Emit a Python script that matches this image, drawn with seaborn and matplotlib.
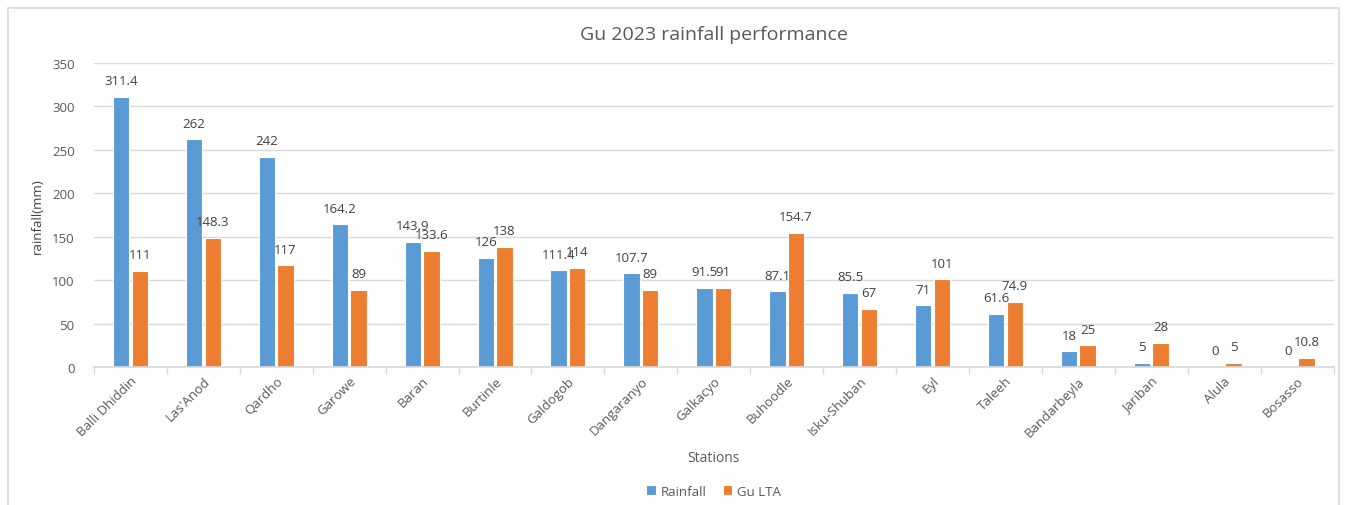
import pandas as pd
import numpy as np
import matplotlib.pyplot as plt
import seaborn as sns
from matplotlib.patches import Rectangle

# Data
stations = ["Balli Dhiddin", "Las'Anod", "Qardho", "Garowe", "Baran", "Burtinle",
            "Galdogob", "Dangaranyo", "Galkacyo", "Buhoodle", "Isku-Shuban", "Eyl",
            "Taleeh", "Bandarbeyla", "Jariban", "Alula", "Bosasso"]
rainfall = [311.4, 262, 242, 164.2, 143.9, 126, 111.4, 107.7, 91.5, 87.1, 85.5, 71,
            61.6, 18, 5, 0, 0]
gu_lta = [111, 148.3, 117, 89, 133.6, 138, 114, 89, 91, 154.7, 67, 101,
          74.9, 25, 28, 5, 10.8]
series = ["Rainfall", "Gu LTA"]
colors = ["#5B9BD5", "#ED7D31"]

df = pd.DataFrame({"Station": stations * 2,
                   "value": rainfall + gu_lta,
                   "series": [series[0]] * len(stations) + [series[1]] * len(stations)})

sns.set_theme(style="white")
plt.rcParams['font.family'] = ['Open Sans', 'DejaVu Sans']
text_col = "#595959"

fig = plt.figure(figsize=(13.47, 5.06), dpi=100)
ax = fig.add_axes([0.0698, 0.2727, 0.9202, 0.6008])

sns.barplot(data=df, x="Station", y="value", hue="series", palette=colors,
            saturation=1, width=0.51, gap=0.12, edgecolor="white", linewidth=0.8, ax=ax)

for cont in ax.containers:
    ax.bar_label(cont, labels=[f"{v:g}" for v in cont.datavalues],
                 padding=7, fontsize=9.5, color="#404040")

ax.set_ylim(0, 350)
ax.set_yticks(np.arange(0, 351, 50))
ax.set_xlim(-0.5, len(stations) - 0.5)
ax.yaxis.grid(True, color="#d9d9d9", lw=1)
ax.set_axisbelow(True)
for s in ["top", "right", "left"]:
    ax.spines[s].set_visible(False)
ax.spines["bottom"].set_color("#d9d9d9")
ax.set_xticks(np.arange(-0.5, len(stations), 1), minor=True)
ax.tick_params(axis="x", which="minor", length=5, color="#d9d9d9", bottom=True)
ax.tick_params(axis="x", which="major", length=0, labelsize=9.5, labelcolor=text_col, pad=5)
ax.tick_params(axis="y", length=0, labelsize=9.5, labelcolor=text_col, pad=14)
plt.setp(ax.get_xticklabels(), rotation=45, ha="right", rotation_mode="anchor")

ax.set_xlabel("Stations", fontsize=10, color=text_col, labelpad=8)
ax.set_ylabel("rainfall(mm)", fontsize=9.5, color="#404040", labelpad=6)
ax.set_title("Gu 2023 rainfall performance", fontsize=14, color=text_col, pad=17)

ax.legend(loc="center", bbox_to_anchor=(0.5, -0.408), ncol=2, frameon=False,
          fontsize=9.5, handlelength=0.7, handleheight=0.7, columnspacing=1.2,
          handletextpad=0.4, labelcolor=text_col)

fig.patches.append(Rectangle((8 / 1347, -0.01), 1331 / 1347, 0.993, transform=fig.transFigure,
                             fill=False, edgecolor="#d9d9d9", lw=1.2))

fig.savefig("out.png", dpi=100)
